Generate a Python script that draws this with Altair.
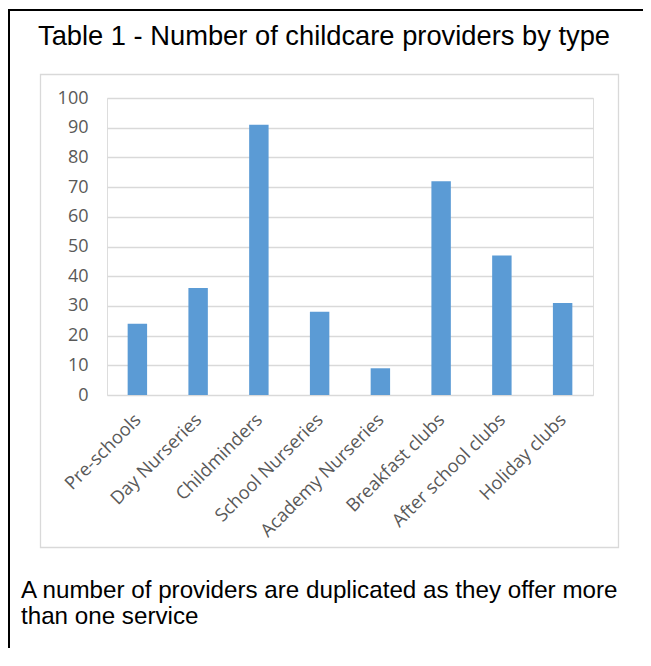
import altair as alt
import pandas as pd

categories = ["Pre-schools", "Day Nurseries", "Childminders", "School Nurseries",
              "Academy Nurseries", "Breakfast clubs", "After school clubs", "Holiday clubs"]
values = [24, 36, 91, 28, 9, 72, 47, 31]
y_ticks = [0, 10, 20, 30, 40, 50, 60, 70, 80, 90, 100]
title_text = "Table 1 - Number of childcare providers by type"
note_lines = ["A number of providers are duplicated as they offer more", "than one service"]

df = pd.DataFrame({"type": categories, "count": values})
one = pd.DataFrame({"k": [0]})

W, H = 486, 297

bars = alt.Chart(df).mark_bar(color="#5B9BD5").encode(
    x=alt.X("type:N", sort=categories, title=None,
            scale=alt.Scale(paddingInner=0.68, paddingOuter=0.34),
            axis=alt.Axis(labelAngle=-45, labelAlign="right", labelBaseline="middle",
                          labelFont="Open Sans", labelFontSize=18.3, labelColor="#595959",
                          ticks=False, tickSize=0, domain=False, labelPadding=22,
                          labelOffset=1, labelLimit=300)),
    y=alt.Y("count:Q", title=None,
            scale=alt.Scale(domain=[0, 100], nice=False),
            axis=alt.Axis(values=y_ticks, grid=True, gridColor="#d9d9d9", gridWidth=1.3,
                          domain=False, ticks=False, tickSize=0, labelPadding=19,
                          labelFont="Open Sans", labelFontSize=18, labelColor="#595959")),
)

outer = alt.Chart(one).mark_rect(fill="transparent", stroke="#000000", strokeWidth=2).encode(
    x=alt.value(-98), x2=alt.value(700), y=alt.value(-88), y2=alt.value(700))

inner = alt.Chart(one).mark_rect(fill="transparent", stroke="#d9d9d9", strokeWidth=1.3).encode(
    x=alt.value(-66.5), x2=alt.value(511.5), y=alt.value(-23.5), y2=alt.value(449.5))

title = alt.Chart(one).mark_text(font="Liberation Sans", fontSize=27.3, color="#000000",
                                 align="center", baseline="alphabetic").encode(
    x=alt.value(217), y=alt.value(-53), text=alt.value(title_text))

note = alt.Chart(one).mark_text(font="Liberation Sans", fontSize=24.2, color="#000000",
                                align="left", baseline="alphabetic", lineHeight=26).encode(
    x=alt.value(-86), y=alt.value(499.5), text=alt.value(note_lines))

chart = alt.layer(outer, inner, bars, title, note).properties(
    width=W, height=H,
    autosize=alt.AutoSizeParams(type="none"),
    padding={"left": 99, "top": 90, "right": 50, "bottom": 253},
).configure_view(strokeWidth=0).configure(background="white")

chart.save("out.html", embed_options={"renderer": "svg", "actions": False})
